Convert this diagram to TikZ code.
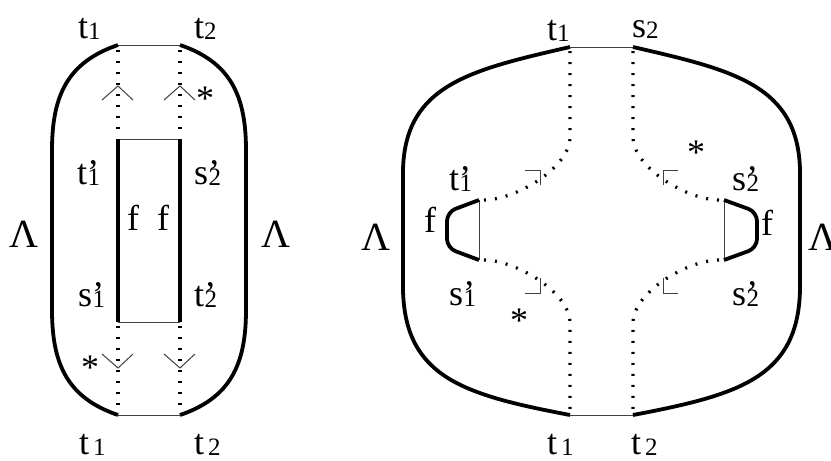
\documentclass[tikz,border=0pt]{standalone}
\usepackage{fontspec}
\setmainfont{Liberation Serif}
\newcommand\sbx[1]{\raisebox{-0.05em}{\fontsize{25}{25}\selectfont #1}}
\newcommand\lb[2]{#1\sbx{#2}}
\newcommand\lbp[2]{#1\rlap{’}\kern0.5pt\sbx{#2}}
\newcommand\lbg[2]{#1\kern4pt\sbx{#2}}
\begin{document}
\begin{tikzpicture}[x=1pt,y=-1pt,
  thickline/.style={line width=3.8pt},
  thinline/.style={line width=1pt, black!75},
  dotline/.style={line width=3.2pt, dash pattern=on 2pt off 9pt},
  lab/.style={inner sep=0pt, anchor=base west, font=\fontsize{36}{36}\selectfont},
  star/.style={inner sep=0pt, anchor=center, font=\fontsize{36}{36}\selectfont},
  lam/.style={inner sep=0pt, anchor=base west, font=\fontsize{40}{40}\selectfont}]
\useasboundingbox (0,0) rectangle (831,461);
% ---------- left diagram ----------
\coordinate (A1) at (118,45); \coordinate (A2) at (180,45);
\coordinate (B1) at (118,415); \coordinate (B2) at (180,415);
\coordinate (R1) at (118,139); \coordinate (R2) at (180,139);
\coordinate (R3) at (118,322); \coordinate (R4) at (180,322);
\draw[thinline] (A1) -- (A2);
\draw[thinline] (B1) -- (B2);
\draw[thickline] (A1) .. controls (68,62) and (52,95) .. (52,150) -- (52,310) .. controls (52,365) and (68,398) .. (B1);
\draw[thickline] (A2) .. controls (230,62) and (246,95) .. (246,150) -- (246,310) .. controls (246,365) and (230,398) .. (B2);
\draw[dotline] (118,50) -- (118,137);
\draw[dotline] (180,50) -- (180,137);
\draw[dotline] (118,326) -- (118,412);
\draw[dotline] (180,326) -- (180,412);
\draw[thinline] (102,100) -- (118,86) -- (133,100);
\draw[thinline] (164,100) -- (180,86) -- (195,100);
\draw[thinline] (102,354) -- (118,368) -- (133,354);
\draw[thinline] (164,354) -- (180,368) -- (195,354);
\draw[thinline] (R1) -- (R2);
\draw[thinline] (R3) -- (R4);
\draw[thickline] (R1) -- (R3);
\draw[thickline] (R2) -- (R4);
\node[lab] (lt1) at (78,38) {\lb{t}{1}};
\node[lab] (lt2) at (194,38) {\lb{t}{2}};
\node[lab] (ltp1) at (77,184) {\lbp{t}{1}};
\node[lab] (lsp2) at (194,184) {\lbp{s}{2}};
\node[lab] (lf1) at (127,230) {f};
\node[lab] (lf2) at (157,230) {f};
\node[lab] (lsp1) at (78,306) {\lbp{s}{1}};
\node[lab] (ltp2) at (194,306) {\lbp{t}{2}};
\node[lam] (lL1) at (9,247) {Λ};
\node[lam] (lL2) at (261,247) {Λ};
\node[star] (ls1) at (205,99) {*};
\node[star] (ls2) at (90,368) {*};
\node[lab] (lbt1) at (79,454) {\lbg{t}{1}};
\node[lab] (lbt2) at (194,454) {\lbg{t}{2}};
% ---------- right diagram ----------
\coordinate (C1) at (570,47); \coordinate (C2) at (633,47);
\coordinate (D1) at (570,415); \coordinate (D2) at (633,415);
\draw[thinline] (C1) -- (C2);
\draw[thinline] (D1) -- (D2);
\draw[thickline] (C1) .. controls (470,70) and (405,85) .. (403,170) -- (403,290) .. controls (405,378) and (465,395) .. (D1);
\draw[thickline] (C2) .. controls (733,70) and (798,85) .. (800,170) -- (800,290) .. controls (798,378) and (738,395) .. (D2);
\draw[dotline] (484,200) .. controls (515,200) and (570,168) .. (570,137) -- (570,50);
\draw[dotline] (719,200) .. controls (688,200) and (633,168) .. (633,137) -- (633,50);
\draw[dotline] (484,260) .. controls (515,260) and (570,292) .. (570,323) -- (570,412);
\draw[dotline] (719,260) .. controls (688,260) and (633,292) .. (633,323) -- (633,412);
\draw[thinline] (525,170) -- (540,170) -- (540,185);
\draw[thinline] (678,170) -- (663,170) -- (663,185);
\draw[thinline] (540,278) -- (540,293) -- (525,293);
\draw[thinline] (663,278) -- (663,293) -- (678,293);
% f shapes
\coordinate (F1) at (479,200); \coordinate (F2) at (479,260);
\coordinate (G1) at (724,200); \coordinate (G2) at (724,260);
\draw[thinline] (F1) -- (F2);
\draw[thinline] (G1) -- (G2);
\draw[thickline, rounded corners=9pt] (F1) -- (447,212) -- (447,248) -- (F2);
\draw[thickline, rounded corners=9pt] (G1) -- (757,212) -- (757,248) -- (G2);
\node[lab] (rt1) at (547,40) {\lb{t}{1}};
\node[lab] (rs2) at (632,37) {\lb{s}{2}};
\node[lab] (rtp1) at (449,190) {\lbp{t}{1}};
\node[lab] (rsp2) at (732,190) {\lbp{s}{2}};
\node[lab] (rf1) at (424,232) {f};
\node[lab] (rf2) at (761,235) {f};
\node[lab] (rsp1) at (449,305) {\lbp{s}{1}};
\node[lab] (rsp2b) at (732,305) {\lbp{s}{2}};
\node[lam] (rL1) at (361,250) {Λ};
\node[lam] (rL2) at (808,250) {Λ};
\node[star] (rs1) at (696,153) {*};
\node[star] (rs2b) at (519,321) {*};
\node[lab] (rbt1) at (547,454) {\lbg{t}{1}};
\node[lab] (rbt2) at (631,454) {\lbg{t}{2}};
\end{tikzpicture}
\end{document}
